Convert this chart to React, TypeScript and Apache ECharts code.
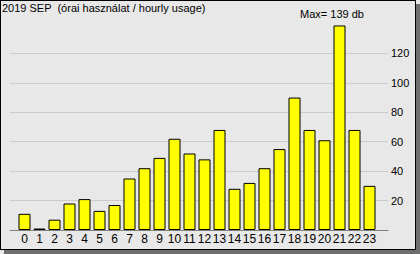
import React, { useEffect, useRef } from "react";
import * as echarts from "echarts";

const hours = ["0","1","2","3","4","5","6","7","8","9","10","11","12","13","14","15","16","17","18","19","20","21","22","23"];
const usage = [11, 1, 7, 18, 21, 13, 17, 35, 42, 49, 62, 52, 48, 68, 28, 32, 42, 55, 90, 68, 61, 139, 68, 30];
const titleText = "2019 SEP  (órai használat / hourly usage)";
const unitText = "db";
const yMax = 140;
const yStep = 20;

const FONT = "'Liberation Sans', Arial, sans-serif";

export default function App() {
  const ref = useRef<HTMLDivElement>(null);
  useEffect(() => {
    document.body.style.margin = "0";
    if (!ref.current) return;
    const chart = echarts.init(ref.current, null, { renderer: "svg" });
    const maxVal = Math.max(...usage);
    chart.setOption({
      animation: false,
      textStyle: { fontFamily: FONT },
      graphic: [
        {
          type: "text",
          left: 2,
          top: 2,
          style: { text: titleText, font: `11px ${FONT}`, fill: "#000" },
        },
        {
          type: "text",
          left: 300,
          top: 8,
          style: { text: `Max= ${maxVal} ${unitText}`, font: `11px ${FONT}`, fill: "#000" },
        },
      ],
      grid: [
        { left: 17, right: 43, top: 24, bottom: 24 },
        { left: 10, right: 32, top: 24, bottom: 24 },
      ],
      xAxis: [
        {
          type: "category",
          gridIndex: 0,
          data: hours,
          axisLine: { show: false },
          axisTick: { show: false },
          axisLabel: { color: "#000", fontSize: 12, fontFamily: FONT, margin: 3, interval: 0 },
        },
        {
          type: "value",
          gridIndex: 1,
          min: 0,
          max: 1,
          axisLine: { show: true, lineStyle: { color: "#808080", width: 1 } },
          axisTick: { show: false },
          axisLabel: { show: false },
          splitLine: { show: false },
        },
      ],
      yAxis: [
        {
          type: "value",
          gridIndex: 0,
          min: 0,
          max: yMax,
          interval: yStep,
          axisLine: { show: false },
          axisTick: { show: false },
          axisLabel: { show: false },
          splitLine: { show: false },
        },
        {
          type: "value",
          gridIndex: 1,
          position: "right",
          min: 0,
          max: yMax,
          interval: yStep,
          axisLine: { show: false },
          axisTick: { show: false },
          axisLabel: {
            color: "#000",
            fontSize: 11,
            fontFamily: FONT,
            margin: 3,
            showMinLabel: false,
            showMaxLabel: false,
          },
          splitLine: {
            show: true,
            showMinLine: false,
            showMaxLine: false,
            lineStyle: { color: "#cccccc", width: 1 },
          },
        },
      ],
      series: [
        {
          type: "bar",
          xAxisIndex: 0,
          yAxisIndex: 0,
          data: usage,
          barWidth: 12,
          itemStyle: { color: "#ffff00", borderColor: "#000", borderWidth: 1 },
        },
      ],
    });
    return () => chart.dispose();
  }, []);

  return (
    <div style={{ position: "fixed", left: 0, top: 0, width: 420, height: 254, background: "#e8e8e8" }}>
      <div style={{ position: "absolute", left: 4, top: 4, width: 416, height: 250, background: "#6e6e6e" }} />
      <div
        style={{
          position: "absolute",
          left: 0,
          top: 0,
          width: 414,
          height: 248,
          border: "1px solid #000",
          background: "#e8e8e8",
        }}
      />
      <div ref={ref} style={{ position: "absolute", left: 0, top: 0, width: 420, height: 254 }} />
    </div>
  );
}
